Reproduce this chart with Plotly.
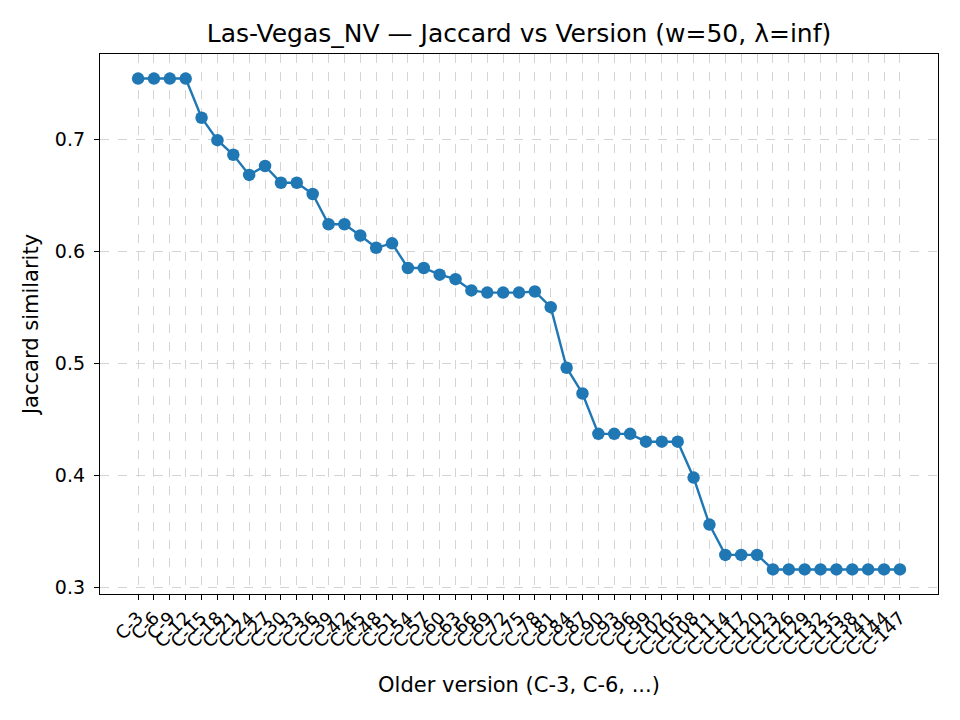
import plotly.graph_objects as go

versions = [f"C-{v}" for v in range(3, 148, 3)]
jaccard = [
    0.754, 0.754, 0.754, 0.754, 0.719, 0.699, 0.686, 0.668, 0.676, 0.661,
    0.661, 0.651, 0.624, 0.624, 0.614, 0.603, 0.607, 0.585, 0.585, 0.579,
    0.575, 0.565, 0.563, 0.563, 0.563, 0.564, 0.550, 0.496, 0.473, 0.437,
    0.437, 0.437, 0.430, 0.430, 0.430, 0.398, 0.356, 0.329, 0.329, 0.329,
    0.316, 0.316, 0.316, 0.316, 0.316, 0.316, 0.316, 0.316, 0.316,
]
title_text = "Las-Vegas_NV — Jaccard vs Version (w=50, λ=inf)"
x_title = "Older version (C-3, C-6, ...)"
y_title = "Jaccard similarity"
y_ticks = [0.3, 0.4, 0.5, 0.6, 0.7]

FONT = "DejaVu Sans"
n = len(versions)
ymin, ymax = min(jaccard), max(jaccard)
pad = 0.05 * (ymax - ymin)

fig = go.Figure(
    go.Scatter(
        x=list(range(n)),
        y=jaccard,
        mode="lines+markers",
        line=dict(color="#1f77b4", width=2.4),
        marker=dict(color="#1f77b4", size=12.5),
        showlegend=False,
    )
)

fig.update_layout(
    width=960,
    height=720,
    paper_bgcolor="white",
    plot_bgcolor="white",
    margin=dict(l=92, r=30, t=46, b=134),
    font=dict(family=FONT, color="black"),
    title=dict(text=title_text, xref="paper", x=0.5, xanchor="center",
               y=0.965, yanchor="middle",
               font=dict(family=FONT, size=25, color="black")),
)

fig.update_xaxes(
    range=[-0.05 * (n - 1), (n - 1) * 1.05],
    tickmode="array",
    tickvals=list(range(n)),
    ticktext=versions,
    tickangle=-45,
    ticks="outside",
    ticklen=5,
    tickwidth=1.2,
    tickcolor="black",
    tickfont=dict(family=FONT, size=18, color="black"),
    showline=True,
    linecolor="black",
    linewidth=1.3,
    mirror=True,
    showgrid=True,
    gridcolor="#d4d4d4",
    griddash="dash",
    gridwidth=1,
    zeroline=False,
    title=dict(text=x_title, font=dict(family=FONT, size=21, color="black"), standoff=18),
)

fig.update_yaxes(
    range=[ymin - pad, ymax + pad],
    tickmode="array",
    tickvals=y_ticks,
    tickformat=".1f",
    ticks="outside",
    ticklen=5,
    tickwidth=1.2,
    tickcolor="black",
    tickfont=dict(family=FONT, size=19, color="black"),
    ticklabelstandoff=5,
    showline=True,
    linecolor="black",
    linewidth=1.3,
    mirror=True,
    showgrid=True,
    gridcolor="#d4d4d4",
    griddash="dash",
    gridwidth=1,
    zeroline=False,
    title=dict(text=y_title, font=dict(family=FONT, size=21, color="black"), standoff=10),
)

fig.write_html("out.html")
